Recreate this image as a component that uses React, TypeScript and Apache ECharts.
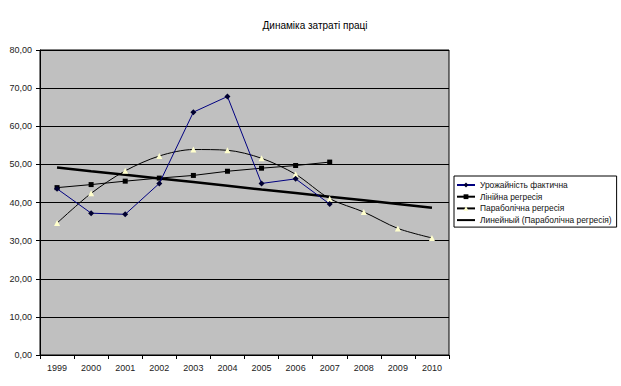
import React, { useEffect, useRef } from "react";
import * as echarts from "echarts";

const years = ["1999", "2000", "2001", "2002", "2003", "2004", "2005", "2006", "2007", "2008", "2009", "2010"];
const actual = [43.6, 37.2, 36.9, 45.0, 63.7, 67.8, 45.0, 46.2, 39.6];
const linearReg = [43.9, 44.7, 45.6, 46.4, 47.1, 48.2, 49.0, 49.7, 50.6];
const parabolicReg = [34.6, 42.4, 48.3, 52.2, 53.9, 53.7, 51.6, 47.4, 41.0, 37.5, 33.2, 30.7];
const trendParabolic = [49.2, 48.2, 47.3, 46.3, 45.4, 44.4, 43.4, 42.5, 41.5, 40.6, 39.6, 38.6];

const seriesNames = [
  "Урожайність фактична",
  "Лінійна регресія",
  "Параболічна регресія",
  "Линейный (Параболічна регресія)",
];
const titleText = "Динаміка затраті праці";

const FONT = "'Liberation Sans', Arial, sans-serif";

export default function App() {
  const ref = useRef<HTMLDivElement>(null);

  useEffect(() => {
    document.body.style.margin = "0";
    const chart = echarts.init(ref.current!, null, { renderer: "svg" });
    chart.setOption({
      animation: false,
      backgroundColor: "#ffffff",
      textStyle: { fontFamily: FONT },
      title: {
        text: titleText,
        left: 310,
        top: 15,
        textAlign: "center",
        textStyle: { fontSize: 10, fontWeight: "normal", color: "#000", fontFamily: FONT },
      },
      legend: {
        orient: "vertical",
        left: 454,
        top: 176,
        padding: [4, 5, 2, 2],
        borderColor: "#000",
        borderWidth: 1,
        backgroundColor: "#fff",
        itemWidth: 18,
        itemHeight: 6,
        itemGap: 1.7,
        textStyle: { fontSize: 8.4, lineHeight: 10, color: "#111", fontFamily: FONT },
        data: [
          { name: seriesNames[0] },
          { name: seriesNames[1] },
          { name: seriesNames[2] },
          { name: seriesNames[3], itemStyle: { color: "rgba(0,0,0,0)", borderWidth: 0 } },
        ],
      },
      grid: {
        left: 40,
        top: 50,
        width: 409,
        height: 305,
        show: true,
        backgroundColor: "#C0C0C0",
        borderColor: "#000",
        borderWidth: 1,
      },
      xAxis: {
        type: "category",
        data: years,
        boundaryGap: true,
        axisLine: { show: true, lineStyle: { color: "#000", width: 1 } },
        axisTick: { show: true, interval: 0, length: 4, lineStyle: { color: "#000" } },
        axisLabel: { interval: 0, fontSize: 9, color: "#222", margin: 8, fontFamily: FONT },
        splitLine: { show: false },
      },
      yAxis: {
        type: "value",
        min: 0,
        max: 80,
        interval: 10,
        axisLine: { show: true, lineStyle: { color: "#000", width: 1 } },
        axisTick: { show: true, length: 4, lineStyle: { color: "#000" } },
        axisLabel: {
          fontSize: 9,
          color: "#222",
          margin: 8,
          fontFamily: FONT,
          formatter: (v: number) => v.toFixed(2).replace(".", ","),
        },
        splitLine: { show: true, lineStyle: { color: "#000", width: 1 } },
      },
      series: [
        {
          name: seriesNames[0],
          type: "line",
          data: actual,
          symbol: "diamond",
          symbolSize: 6,
          lineStyle: { color: "#000080", width: 1 },
          itemStyle: { color: "#000030" },
          z: 5,
        },
        {
          name: seriesNames[1],
          type: "line",
          data: linearReg,
          symbol: "rect",
          symbolSize: 5,
          lineStyle: { color: "#000", width: 1 },
          itemStyle: { color: "#000" },
          z: 4,
        },
        {
          name: seriesNames[2],
          type: "line",
          data: parabolicReg,
          smooth: 0.3,
          symbol: "triangle",
          symbolSize: 6,
          lineStyle: { color: "#000", width: 1 },
          itemStyle: { color: "#FFFFCC", borderWidth: 0 },
          z: 3,
        },
        {
          name: seriesNames[3],
          type: "line",
          data: trendParabolic,
          symbol: "none",
          lineStyle: { color: "#000", width: 2.5 },
          itemStyle: { color: "#000" },
          z: 2,
        },
      ],
    });
    return () => chart.dispose();
  }, []);

  return <div ref={ref} style={{ width: 621, height: 386 }} />;
}
